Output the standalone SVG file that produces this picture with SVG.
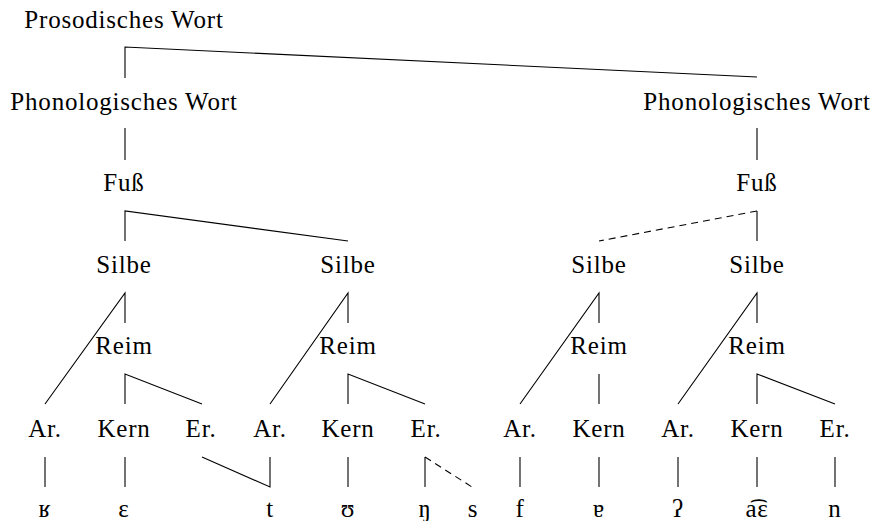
<svg xmlns="http://www.w3.org/2000/svg" width="878" height="521" viewBox="0 0 878 521">
<style>
text{font-family:"Liberation Serif","Times New Roman",serif;font-size:25px;fill:#000;text-anchor:middle;letter-spacing:0.8px}
.e{stroke:#000;stroke-width:1.1;fill:none}
.d{stroke:#000;stroke-width:1.1;fill:none;stroke-dasharray:7 5}
</style>
<rect width="878" height="521" fill="#fff"/>
<g id="connectors">
<path class="e" d="M125,78 V47 L757,77"/>
<path class="e" d="M125,128 V160"/>
<path class="e" d="M757,128 V160"/>
<path class="e" d="M125,241 V211 L348,241"/>
<path class="e" d="M757,241 V211"/>
<path class="d" d="M757,211 L599,241"/>
<path class="e" d="M45,404 L125,293 V323"/>
<path class="e" d="M270,404 L348,293 V323"/>
<path class="e" d="M520,404 L599,293 V323"/>
<path class="e" d="M678,404 L757,293 V323"/>
<path class="e" d="M125,404 V374 L202,404"/>
<path class="e" d="M348,404 V374 L425,404"/>
<path class="e" d="M599,374 V404"/>
<path class="e" d="M757,404 V374 L835,404"/>
<path class="e" d="M45,457 V487"/>
<path class="e" d="M125,457 V487"/>
<path class="e" d="M202,457 L270,487 V457"/>
<path class="e" d="M348,457 V487"/>
<path class="e" d="M425,487 V457"/>
<path class="d" d="M425,457 L472,487"/>
<path class="e" d="M520,457 V487"/>
<path class="e" d="M599,457 V487"/>
<path class="e" d="M678,457 V487"/>
<path class="e" d="M757,457 V487"/>
<path class="e" d="M835,457 V487"/>
</g>
<g id="pwort"><text x="124" y="28">Prosodisches Wort</text></g>
<g id="phw1"><text x="124" y="110">Phonologisches Wort</text></g>
<g id="phw2"><text x="757" y="110">Phonologisches Wort</text></g>
<g id="fuss1"><text x="124" y="191">Fuß</text></g>
<g id="fuss2"><text x="757" y="191">Fuß</text></g>
<g id="silbe1"><text x="124" y="273">Silbe</text></g>
<g id="silbe2"><text x="348" y="273">Silbe</text></g>
<g id="silbe3"><text x="599" y="273">Silbe</text></g>
<g id="silbe4"><text x="757" y="273">Silbe</text></g>
<g id="reim1"><text x="124" y="354">Reim</text></g>
<g id="reim2"><text x="348" y="354">Reim</text></g>
<g id="reim3"><text x="599" y="354">Reim</text></g>
<g id="reim4"><text x="757" y="354">Reim</text></g>
<g id="ar1"><text x="45" y="437">Ar.</text></g>
<g id="kern1"><text x="124" y="437">Kern</text></g>
<g id="er1"><text x="201" y="437">Er.</text></g>
<g id="ar2"><text x="270" y="437">Ar.</text></g>
<g id="kern2"><text x="348" y="437">Kern</text></g>
<g id="er2"><text x="426" y="437">Er.</text></g>
<g id="ar3"><text x="520" y="437">Ar.</text></g>
<g id="kern3"><text x="599" y="437">Kern</text></g>
<g id="ar4"><text x="678" y="437">Ar.</text></g>
<g id="kern4"><text x="757" y="437">Kern</text></g>
<g id="er4"><text x="835" y="437">Er.</text></g>
<g id="s1"><text x="45" y="517">ʁ</text></g>
<g id="s2"><text x="124" y="517">ɛ</text></g>
<g id="s3"><text x="270" y="517">t</text></g>
<g id="s4"><text x="348" y="517">ʊ</text></g>
<g id="s5"><text x="425" y="517">ŋ</text></g>
<g id="s6"><text x="473" y="517">s</text></g>
<g id="s7"><text x="520" y="517">f</text></g>
<g id="s8"><text x="599" y="517">ɐ</text></g>
<g id="s9"><text x="678" y="517">ʔ</text></g>
<g id="s10"><text x="757" y="517">a͡ɛ</text></g>
<g id="s11"><text x="835" y="517">n</text></g>
</svg>
